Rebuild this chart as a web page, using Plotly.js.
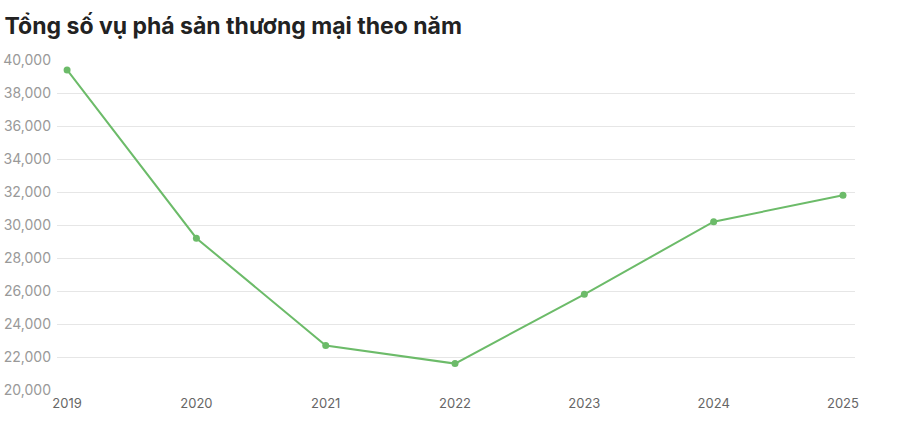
<!DOCTYPE html>
<html>
<head>
<meta charset="utf-8">
<script src="https://cdn.plot.ly/plotly-3.0.1.min.js"></script>
<style>html,body{margin:0;padding:0;background:#fff;}#chart{width:910px;height:440px;}</style>
</head>
<body>
<div id="chart"></div>
<script>
const years = [2019, 2020, 2021, 2022, 2023, 2024, 2025];
const bankruptcies = [39400, 29200, 22700, 21600, 25800, 30200, 31800];
const yTicks = [20000, 22000, 24000, 26000, 28000, 30000, 32000, 34000, 36000, 38000, 40000];
const titleText = "Tổng số vụ phá sản thương mại theo năm";

const trace = {
  x: years,
  y: bankruptcies,
  type: "scatter",
  mode: "lines+markers",
  line: {color: "#6cbb69", width: 2},
  marker: {color: "#6cbb69", size: 7},
  hoverinfo: "x+y"
};

const layout = {
  width: 910,
  height: 440,
  margin: {l: 57, r: 55, t: 60, b: 50},
  paper_bgcolor: "#fff",
  plot_bgcolor: "#fff",
  font: {family: "Inter, 'Open Sans', sans-serif"},
  title: {
    text: "<b>" + titleText + "</b>",
    x: 0.005, xanchor: "left",
    y: 0.942, yanchor: "middle",
    font: {size: 23, color: "#222", family: "Inter, 'Open Sans', sans-serif"}
  },
  showlegend: false,
  xaxis: {
    type: "linear",
    range: [2018.922, 2025.093],
    tickvals: years,
    ticktext: years.map(String),
    showgrid: false,
    zeroline: false,
    showline: false,
    ticks: "",
    tickfont: {size: 13, color: "#666", family: "Inter, 'Open Sans', sans-serif"},
    ticklabelstandoff: 4
  },
  yaxis: {
    range: [20000, 40000],
    tickvals: yTicks,
    ticktext: yTicks.map(v => v.toLocaleString("en-US")),
    showgrid: true,
    gridcolor: "#e6e6e6",
    gridwidth: 1,
    zeroline: false,
    showline: false,
    ticks: "",
    tickfont: {size: 14, color: "#999", family: "Inter, 'Open Sans', sans-serif"},
    ticklabelstandoff: 5
  }
};

Plotly.newPlot("chart", [trace], layout, {displayModeBar: false, staticPlot: true});
</script>
</body>
</html>
